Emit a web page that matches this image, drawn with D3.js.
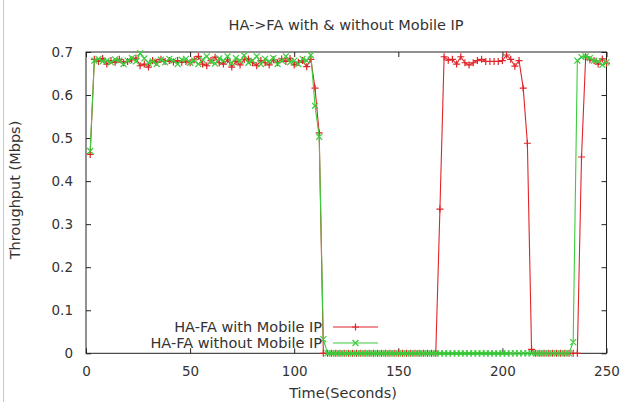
<!DOCTYPE html>
<html>
<head>
<meta charset="utf-8">
<script src="https://cdn.jsdelivr.net/npm/d3@7"></script>
<style>
  html, body { margin: 0; padding: 0; background: #fff; }
  svg { display: block; }
  text { font-family: "DejaVu Sans", sans-serif; fill: #333; }
</style>
</head>
<body>
<svg id="chart" width="620" height="402"></svg>
<script>
// ---- data ----
const title = "HA->FA with & without Mobile IP";
const xLabel = "Time(Seconds)";
const yLabel = "Throughput (Mbps)";
const seriesNames = ["HA-FA with Mobile IP", "HA-FA without Mobile IP"];
const xTicks = [0, 50, 100, 150, 200, 250];
const yTicks = [0, 0.1, 0.2, 0.3, 0.4, 0.5, 0.6, 0.7];

const seconds = [
  2, 4, 6, 8, 10, 12, 14, 16, 18, 20, 22, 24, 26, 28, 30, 32, 34, 36, 38, 40,
  42, 44, 46, 48, 50, 52, 54, 56, 58, 60, 62, 64, 66, 68, 70, 72, 74, 76, 78, 80,
  82, 84, 86, 88, 90, 92, 94, 96, 98, 100, 102, 104, 106, 108, 110, 112, 114, 116, 118, 120,
  122, 124, 126, 128, 130, 132, 134, 136, 138, 140, 142, 144, 146, 148, 150, 152, 154, 156, 158, 160,
  162, 164, 166, 168, 170, 172, 174, 176, 178, 180, 182, 184, 186, 188, 190, 192, 194, 196, 198, 200,
  202, 204, 206, 208, 210, 212, 214, 216, 218, 220, 222, 224, 226, 228, 230, 232, 234, 236, 238, 240,
  242, 244, 246, 248, 250
];

const withMobileIP = [
  0.462,
  0.683, 0.678, 0.685, 0.672, 0.680, 0.676, 0.683, 0.675, 0.678, 0.682,
  0.686, 0.668, 0.672, 0.665, 0.680, 0.676, 0.683, 0.678, 0.680, 0.677,
  0.680, 0.676, 0.678, 0.675, 0.682, 0.690, 0.672, 0.668, 0.680, 0.688,
  0.675, 0.672, 0.682, 0.665, 0.678, 0.670, 0.682, 0.684, 0.675, 0.668,
  0.680, 0.675, 0.670, 0.682, 0.675, 0.684, 0.678, 0.685, 0.670, 0.676,
  0.680, 0.666, 0.683,
  0.616, 0.512, 0,
  0, 0, 0, 0, 0, 0, 0, 0, 0, 0, 0, 0, 0, 0, 0, 0, 0, 0, 0, 0, 0, 0, 0, 0, 0, 0, 0,
  0.335,
  0.689, 0.681, 0.683, 0.672, 0.689, 0.675, 0.670, 0.675, 0.680, 0.683,
  0.678, 0.678, 0.678, 0.678, 0.680, 0.693, 0.683, 0.667, 0.680,
  0.616, 0.488, 0.009,
  0, 0, 0, 0, 0, 0, 0, 0, 0, 0, 0,
  0.456, 0.689,
  0.682, 0.680, 0.672, 0.684, 0.674
];

const withoutMobileIP = [
  0.470,
  0.680, 0.684, 0.678, 0.680, 0.676, 0.683, 0.680, 0.672, 0.680, 0.686,
  0.678, 0.697, 0.685, 0.675, 0.678, 0.672, 0.682, 0.676, 0.684, 0.680,
  0.672, 0.682, 0.684, 0.675, 0.680, 0.672, 0.682, 0.690, 0.678, 0.673,
  0.685, 0.680, 0.690, 0.674, 0.686, 0.680, 0.692, 0.675, 0.680, 0.690,
  0.672, 0.684, 0.678, 0.686, 0.672, 0.680, 0.690, 0.676, 0.680, 0.672,
  0.684, 0.680, 0.693,
  0.575, 0.503, 0.033,
  0, 0, 0, 0, 0, 0, 0, 0, 0, 0, 0, 0, 0, 0, 0, 0, 0, 0, 0, 0,
  0, 0, 0, 0, 0, 0, 0, 0, 0, 0, 0, 0, 0, 0, 0, 0, 0, 0, 0, 0,
  0, 0, 0, 0, 0, 0, 0, 0, 0, 0, 0, 0, 0, 0, 0, 0, 0, 0, 0,
  0.026, 0.680, 0.688, 0.690,
  0.686, 0.680, 0.678, 0.670, 0.676
];

// ---- layout ----
const svg = d3.select("#chart");
const margin = { left: 86, right: 620 - 606.5, top: 52, bottom: 402 - 353.3 };
const W = 620, H = 402;
const x = d3.scaleLinear().domain([0, 250]).range([margin.left, W - margin.right]);
const y = d3.scaleLinear().domain([0, 0.7]).range([H - margin.bottom, margin.top]);

const colors = ["#e02428", "#3ccc3c"];
const labelSize = "14.5px";
const tickSize = "13.5px";

// screenshot left edge line
svg.append("line").attr("x1", 3.5).attr("x2", 3.5).attr("y1", 0).attr("y2", H)
  .attr("stroke", "#c8c8c8").attr("stroke-width", 1);

// title
svg.append("text").attr("x", 346).attr("y", 30).attr("text-anchor", "middle")
  .style("font-size", labelSize).text(title);

// axes (ticks inward, mirrored)
const tickLen = 5;
const axisG = svg.append("g");
const xB = d3.axisBottom(x).tickValues(xTicks).tickSize(-tickLen).tickPadding(10).tickFormat(d3.format("d"));
const xT = d3.axisTop(x).tickValues(xTicks).tickSize(-tickLen).tickFormat("");
const yL = d3.axisLeft(y).tickValues(yTicks).tickSize(-tickLen).tickPadding(13).tickFormat(d => d === 0 ? "0" : d3.format(".1f")(d));
const yR = d3.axisRight(y).tickValues(yTicks).tickSize(-tickLen).tickFormat("");

const gxB = axisG.append("g").attr("transform", `translate(0,${y(0)})`).call(xB);
const gxT = axisG.append("g").attr("transform", `translate(0,${y(0.7)})`).call(xT);
const gyL = axisG.append("g").attr("transform", `translate(${x(0)},0)`).call(yL);
const gyR = axisG.append("g").attr("transform", `translate(${x(250)},0)`).call(yR);
[gxB, gxT, gyL, gyR].forEach(g => {
  g.select(".domain").remove();
  g.selectAll(".tick line").attr("stroke", "#222");
  g.selectAll(".tick text").style("font-size", tickSize).style("font-family", '"DejaVu Sans", sans-serif').attr("fill", "#333");
});
gxB.selectAll(".tick text").attr("dy", "0.95em");

// plot border
svg.append("rect").attr("x", x(0)).attr("y", y(0.7))
  .attr("width", x(250) - x(0)).attr("height", y(0) - y(0.7))
  .attr("fill", "none").attr("stroke", "#222").attr("stroke-width", 1);

// axis labels
svg.append("text").attr("x", 343).attr("y", 398).attr("text-anchor", "middle")
  .style("font-size", labelSize).text(xLabel);
svg.append("text").attr("transform", "translate(20,190) rotate(-90)").attr("text-anchor", "middle")
  .style("font-size", labelSize).text(yLabel);

// series
const series = [
  { name: seriesNames[0], values: withMobileIP, color: colors[0], marker: "plus" },
  { name: seriesNames[1], values: withoutMobileIP, color: colors[1], marker: "cross" }
];
const line = d3.line().x(d => x(d[0])).y(d => y(d[1]));
const ms = 3.5;
function markerPath(type, cx, cy) {
  if (type === "plus") return `M${cx - ms},${cy}H${cx + ms}M${cx},${cy - ms}V${cy + ms}`;
  const s = ms * 0.85;
  return `M${cx - s},${cy - s}L${cx + s},${cy + s}M${cx - s},${cy + s}L${cx + s},${cy - s}`;
}

const plotG = svg.append("g");
series.forEach(s => {
  const pts = seconds.map((t, i) => [t, s.values[i]]);
  plotG.append("path").attr("d", line(pts)).attr("fill", "none")
    .attr("stroke", s.color).attr("stroke-width", 1.1);
  plotG.append("path")
    .attr("d", pts.map(p => markerPath(s.marker, x(p[0]), y(p[1]))).join(""))
    .attr("fill", "none").attr("stroke", s.color).attr("stroke-width", 1.2);
});

// legend
const legY = [327, 343];
series.forEach((s, i) => {
  svg.append("text").attr("x", 322).attr("y", legY[i]).attr("dy", "0.35em")
    .attr("text-anchor", "end").style("font-size", labelSize).text(s.name);
  svg.append("line").attr("x1", 333).attr("x2", 378).attr("y1", legY[i]).attr("y2", legY[i])
    .attr("stroke", s.color).attr("stroke-width", 1.1);
  svg.append("path").attr("d", markerPath(s.marker, 355.5, legY[i]))
    .attr("fill", "none").attr("stroke", s.color).attr("stroke-width", 1.2);
});
</script>
</body>
</html>
